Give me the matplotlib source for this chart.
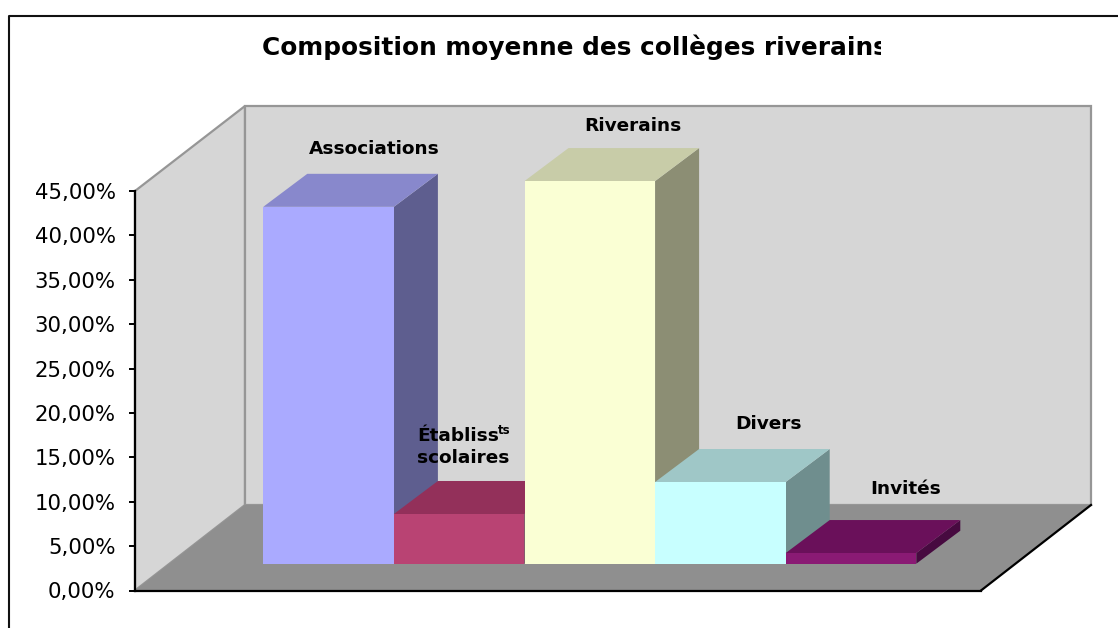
import matplotlib
matplotlib.use('Agg')
import matplotlib.pyplot as plt
from matplotlib.lines import Line2D
from matplotlib.patches import Polygon, Rectangle
from matplotlib.transforms import Bbox

W, H = 1118, 628

categories = ['Associations', 'Établiss', 'Riverains', 'Divers', 'Invités']
values = [40.2, 5.6, 43.1, 9.2, 1.2]
tick_values = [0, 5, 10, 15, 20, 25, 30, 35, 40, 45]
tick_labels = ['0,00%', '5,00%', '10,00%', '15,00%', '20,00%', '25,00%', '30,00%', '35,00%', '40,00%', '45,00%']
front_colors = ['#AAAAFF', '#B94373', '#FAFFD4', '#C8FFFF', '#8A1A74']
top_colors = ['#8888CC', '#93305A', '#C8CCA8', '#9FC7C7', '#6A105A']
side_colors = ['#5E5E8F', '#7A2A4C', '#8C8E74', '#6F8E8E', '#470A40']

# axes box = front edge of the floor and the left wall, x counted in pixels
x0, x1 = 135, 981
y0, y45 = 590.5, 191
px_per_pct = (y0 - y45) / 45.

fig = plt.figure(figsize=(W / 100., H / 100.), dpi=100)
ax = fig.add_axes([x0 / W, (H - y0) / H, (x1 - x0) / W, (y0 - y45) / H])
ax.set_xlim(0, x1 - x0)
ax.set_ylim(0, 45)
ax.patch.set_visible(False)


def py(pixel_y):
    # picture row -> percent
    return (y0 - pixel_y) / px_per_pct


def shape(points, color, edge=None, lw=0, z=2):
    ax.add_patch(Polygon(points, closed=True, facecolor=color, edgecolor=edge or color,
                         linewidth=lw, clip_on=False, zorder=z))


# walls and floor
wall_dx = 110
wall_dy = 85.5 / px_per_pct
wall_top = py(106)
shape([(0, 0), (wall_dx, wall_dy), (wall_dx, wall_top), (0, 45)], '#D6D6D6', '#969696', 1.6, 1)
shape([(wall_dx, wall_dy), (wall_dx + x1 - x0, wall_dy), (wall_dx + x1 - x0, wall_top), (wall_dx, wall_top)],
      '#D6D6D6', '#969696', 1.6, 1)
shape([(0, 0), (x1 - x0, 0), (x1 - x0 + wall_dx, wall_dy), (wall_dx, wall_dy)], '#8F8F8F', z=1.5)
ax.plot([x1 - x0, x1 - x0 + wall_dx], [0, wall_dy], color='black', lw=1.6, clip_on=False, zorder=3)

# bars
bar_left = 128.3
bar_w = 130.6
bar_base = py(563.7)
dx = 44
dy = 33 / px_per_pct
for i in range(len(values)):
    l = bar_left + i * bar_w
    r = l + bar_w
    t = bar_base + values[i]
    shape([(r, bar_base), (r + dx, bar_base + dy), (r + dx, t + dy), (r, t)], side_colors[i])
    shape([(l, t), (r, t), (r + dx, t + dy), (l + dx, t + dy)], top_colors[i])
    ax.add_patch(Rectangle((l, bar_base), bar_w, values[i], facecolor=front_colors[i],
                           edgecolor=front_colors[i], linewidth=0, clip_on=False, zorder=2))

# labels above the bars
lab_x = [374 - x0, 417 - x0, 633 - x0, 769 - x0, 906 - x0]
lab_y = [149, 436, 126, 424, 489]
for i in range(len(categories)):
    ax.text(lab_x[i], py(lab_y[i]), categories[i], fontsize=13.3, fontweight='bold', color='black',
            ha='left' if i == 1 else 'center', va='center', clip_on=False, zorder=5)
ax.text(498 - x0, py(430), 'ts', fontsize=8.5, fontweight='bold', ha='left', va='center', zorder=5)
ax.text(417 - x0, py(458), 'scolaires', fontsize=13.3, fontweight='bold', ha='left', va='center', zorder=5)

for s in ['top', 'right']:
    ax.spines[s].set_visible(False)
ax.spines['left'].set_linewidth(1.6)
ax.spines['bottom'].set_linewidth(1.6)
ax.spines['left'].set_zorder(4)
ax.spines['bottom'].set_zorder(4)
ax.set_xticks([])
ax.set_yticks(tick_values)
ax.set_yticklabels(tick_labels, fontsize=15.3)
ax.tick_params(axis='y', length=4.5, width=1.4, pad=9.5)

# title, cut off on the right as in the source
title = fig.text(262 / W, 1 - 47. / H, 'Composition moyenne des collèges riverains', fontsize=17.8,
                 fontweight='bold', ha='left', va='center')
title.set_clip_box(Bbox([[0, 0], [881, H]]))
title.set_clip_on(True)

# page frame
fig.add_artist(Line2D([8.5 / W, 8.5 / W, 1], [0, 1 - 16. / H, 1 - 16. / H], color='#111111', lw=1.5))

plt.savefig('out.png', dpi=100)
